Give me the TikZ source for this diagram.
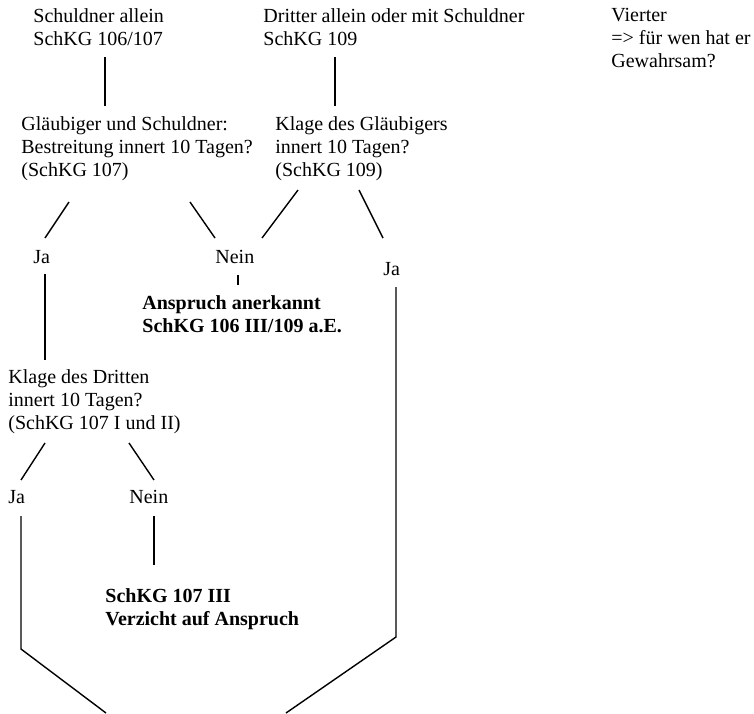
\documentclass[tikz,border=0pt]{standalone}
\usepackage{fontspec}
\setmainfont{Liberation Serif}
\usepackage{tikz}
\usetikzlibrary{positioning}

\begin{document}
\begin{tikzpicture}[
  x=0.5pt, y=-0.5pt,
  txt/.style={anchor=base west, inner sep=0pt, align=left, font=\fontsize{10}{11.5}\selectfont},
  res/.style={txt, font=\fontsize{10}{11.5}\selectfont\bfseries},
  link/.style={line width=0.7pt, black}
]
  \useasboundingbox (0,0) rectangle (754,713);

  % Ausgangslage (base = Grundlinie der letzten Zeile)
  \node[txt] (sch) at (33,45) {Schuldner allein\\SchKG 106/107};
  \node[txt] (dri) at (263,45) {Dritter allein oder mit Schuldner\\SchKG 109};
  \node[txt] (vie) at (611,67) {Vierter\\=> für wen hat er\\Gewahrsam?};

  \node[txt] (gs) at (21,176) {Gläubiger und Schuldner:\\Bestreitung innert 10 Tagen?\\(SchKG 107)};
  \node[txt] (kg) at (275,176) {Klage des Gläubigers\\innert 10 Tagen?\\(SchKG 109)};

  \node[txt] (ja1) at (33,263) {Ja};
  \node[txt] (nein1) at (215,263) {Nein};
  \node[txt] (ja2) at (383,275) {Ja};

  \node[res] (ans) at (142,332) {Anspruch anerkannt\\SchKG 106 III/109 a.E.};

  \node[txt] (kd) at (8,429) {Klage des Dritten\\innert 10 Tagen?\\(SchKG 107 I und II)};
  \node[txt] (ja3) at (8,503) {Ja};
  \node[txt] (nein2) at (129,503) {Nein};

  \node[res] (ver) at (105,625) {SchKG 107 III\\Verzicht auf Anspruch};

  % Verbindungspunkte
  \coordinate (sch-b) at (105,57);    \coordinate (gs-t) at (105,106);
  \coordinate (dri-b) at (335,57);    \coordinate (kg-t) at (335,106);
  \coordinate (gs-bl) at (69,202);    \coordinate (ja1-t) at (45,238);
  \coordinate (gs-br) at (190,202);   \coordinate (nein1-tl) at (215,238);
  \coordinate (kg-bl) at (298,190);   \coordinate (nein1-tr) at (262,238);
  \coordinate (kg-br) at (359,190);   \coordinate (ja2-t) at (383,238);
  \coordinate (ja1-b) at (45,274);    \coordinate (kd-t) at (45,360);
  \coordinate (nein1-b) at (238,275); \coordinate (ans-t) at (238,285);
  \coordinate (ja2-b) at (396,287);   \coordinate (ja2-k) at (396,637);
  \coordinate (kd-bl) at (45,443);    \coordinate (ja3-t) at (21,480);
  \coordinate (kd-br) at (129,443);   \coordinate (nein2-t) at (154,480);
  \coordinate (ja3-b) at (21,516);    \coordinate (ja3-k) at (21,649);
  \coordinate (nein2-b) at (154,516); \coordinate (ver-t) at (154,565);
  \coordinate (endL) at (106,713);    \coordinate (endR) at (286,713);

  \draw[link] (sch-b) -- (gs-t);
  \draw[link] (dri-b) -- (kg-t);
  \draw[link] (gs-bl) -- (ja1-t);
  \draw[link] (gs-br) -- (nein1-tl);
  \draw[link] (kg-bl) -- (nein1-tr);
  \draw[link] (kg-br) -- (ja2-t);
  \draw[link] (ja1-b) -- (kd-t);
  \draw[link] (nein1-b) -- (ans-t);
  \draw[link] (ja2-b) -- (ja2-k) -- (endR);
  \draw[link] (kd-bl) -- (ja3-t);
  \draw[link] (kd-br) -- (nein2-t);
  \draw[link] (ja3-b) -- (ja3-k) -- (endL);
  \draw[link] (nein2-b) -- (ver-t);
\end{tikzpicture}
\end{document}
